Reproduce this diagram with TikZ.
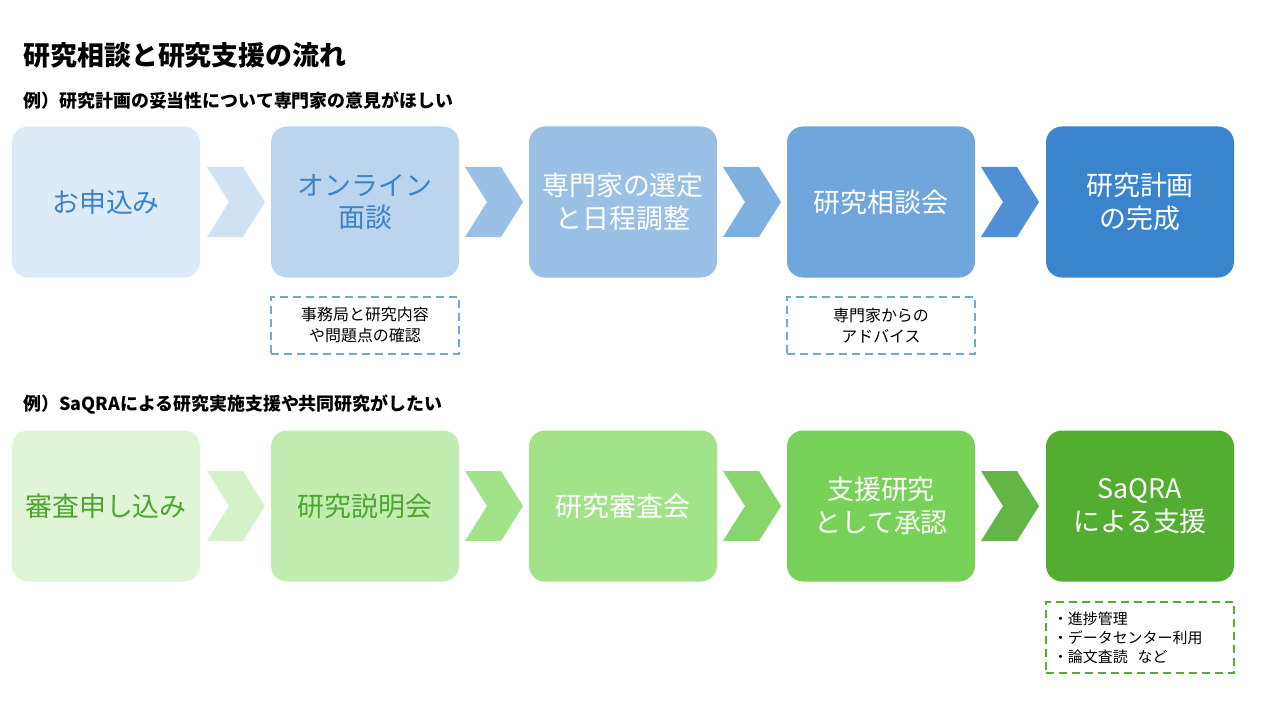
\documentclass[tikz,border=0pt]{standalone}
\usepackage{fontspec}
\setmainfont{Noto Sans CJK JP}
\usetikzlibrary{positioning}
\definecolor{bA}{HTML}{DDEAF7}\definecolor{bB}{HTML}{BBD5EE}\definecolor{bC}{HTML}{9AC0E5}
\definecolor{bD}{HTML}{6FA6DC}\definecolor{bE}{HTML}{3A84CE}\definecolor{bT}{HTML}{3C82C6}
\definecolor{gA}{HTML}{E0F4D6}\definecolor{gB}{HTML}{C2ECB0}\definecolor{gC}{HTML}{A2E38A}
\definecolor{gD}{HTML}{78D25A}\definecolor{gE}{HTML}{52AD30}\definecolor{gT}{HTML}{4CA630}
\begin{document}
\begin{tikzpicture}[x=1bp,y=-1bp,
  stage/.style={rounded corners=16bp,minimum width=188bp,minimum height=151bp,align=center,
    font=\fontsize{27}{33}\selectfont},
  note/.style={draw,line width=2.4bp,dash pattern=on 8bp off 5bp,minimum width=188bp,
    minimum height=57bp,align=center,font=\fontsize{16}{21}\selectfont}]
\useasboundingbox (0,0) rectangle (1280,720);
\node[anchor=west,font=\fontsize{27}{30}\selectfont\bfseries] (title) at (20,55) {研究相談と研究支援の流れ};
\node[anchor=west,font=\fontsize{18}{20}\selectfont\bfseries] (ex1) at (20,101) {例）研究計画の妥当性について専門家の意見がほしい};
\node[anchor=west,font=\fontsize{18}{20}\selectfont\bfseries] (ex2) at (20,405) {例）SaQRAによる研究実施支援や共同研究がしたい};
% row 1
\node[stage,fill=bA,text=bT] (a1) at (106,202) {お申込み};
\node[stage,fill=bB,text=bT] (a2) at (365,202) {オンライン\\面談};
\node[stage,fill=bC,text=white] (a3) at (623,202) {専門家の選定\\と日程調整};
\node[stage,fill=bD,text=white] (a4) at (881,202) {研究相談会};
\node[stage,fill=bE,text=white] (a5) at (1140,202) {研究計画\\の完成};
% row 2
\node[stage,fill=gA,text=gT] (b1) at (106,506) {審査申し込み};
\node[stage,fill=gB,text=gT] (b2) at (365,506) {研究説明会};
\node[stage,fill=gC,text=white] (b3) at (623,506) {研究審査会};
\node[stage,fill=gD,text=white] (b4) at (881,506) {支援研究\\として承認};
\node[stage,fill=gE,text=white] (b5) at (1140,506) {SaQRA\\による支援};
% chevrons
\foreach \c/\x/\y in {bB!70/236/202,bC/494/202,bD!90/752/202,bE!90/1010/202,
  gB!70/236/506,gC/494/506,gD!90/752/506,gE!90/1010/506}
  \fill[\c,shift={(\x,\y)}] (-29,-35) -- (7,-35) -- (29,0) -- (7,35) -- (-29,35) -- (-7,0) -- cycle;
% notes
\node[note,draw=bD,below=18bp of a2] (n2) {事務局と研究内容\\や問題点の確認};
\node[note,draw=bD,below=18bp of a4] (n4) {専門家からの\\アドバイス};
\node[note,draw=gE,minimum height=71bp,text width=174bp,align=left,inner sep=5bp,
  font=\fontsize{15}{19}\selectfont,below=19bp of b5] (n5) {・進捗管理\\・データセンター利用\\・論文査読\ \ など};
\end{tikzpicture}
\end{document}
